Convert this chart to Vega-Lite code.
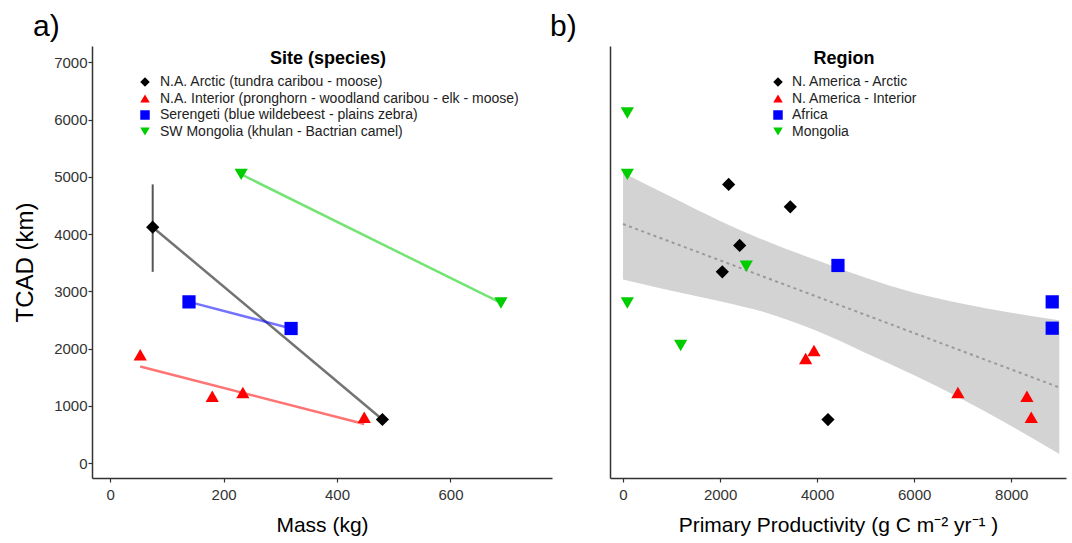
{
  "$schema": "https://vega.github.io/schema/vega-lite/v6.json",
  "background": "white",
  "padding": {"left": 13, "top": 12, "right": 3, "bottom": 5},
  "config": {
    "view": {"stroke": null},
    "font": "Liberation Sans",
    "axis": {
      "grid": false,
      "domainColor": "#333333",
      "domainWidth": 1.5,
      "tickColor": "#333333",
      "tickWidth": 1.2,
      "tickSize": 4,
      "labelColor": "#333333",
      "labelFontSize": 15,
      "labelFont": "Liberation Sans",
      "titleFont": "Liberation Sans",
      "titleColor": "#000000",
      "titleFontWeight": "normal",
      "format": "d"
    },
    "legend": {
      "padding": 0,
      "labelFont": "Liberation Sans",
      "labelFontSize": 14,
      "labelColor": "#222222",
      "labelLimit": 0,
      "titleFont": "Liberation Sans",
      "titleFontSize": 18,
      "titleFontWeight": "bold",
      "titleColor": "#000000",
      "titleAnchor": "middle",
      "titlePadding": 7,
      "titleLimit": 0,
      "rowPadding": 2.5,
      "symbolSize": 90,
      "symbolStrokeWidth": 0,
      "symbolOpacity": 1
    }
  },
  "datasets": {
    "aPoints": [
      {"site": "N.A. Arctic (tundra caribou - moose)", "mass": 75, "tcad": 4120, "lo": 3340, "hi": 4867},
      {"site": "N.A. Arctic (tundra caribou - moose)", "mass": 480, "tcad": 760},
      {"site": "N.A. Interior (pronghorn - woodland caribou - elk - moose)", "mass": 53, "tcad": 1890},
      {"site": "N.A. Interior (pronghorn - woodland caribou - elk - moose)", "mass": 180, "tcad": 1166},
      {"site": "N.A. Interior (pronghorn - woodland caribou - elk - moose)", "mass": 234, "tcad": 1230},
      {"site": "N.A. Interior (pronghorn - woodland caribou - elk - moose)", "mass": 448, "tcad": 800},
      {"site": "Serengeti (blue wildebeest - plains zebra)", "mass": 139, "tcad": 2815},
      {"site": "Serengeti (blue wildebeest - plains zebra)", "mass": 319, "tcad": 2350},
      {"site": "SW Mongolia (khulan - Bactrian camel)", "mass": 231, "tcad": 5042},
      {"site": "SW Mongolia (khulan - Bactrian camel)", "mass": 689, "tcad": 2797}
    ],
    "aLines": [
      {"site": "N.A. Arctic (tundra caribou - moose)", "mass": 75, "tcad": 4120},
      {"site": "N.A. Arctic (tundra caribou - moose)", "mass": 480, "tcad": 760},
      {"site": "N.A. Interior (pronghorn - woodland caribou - elk - moose)", "mass": 53, "tcad": 1685},
      {"site": "N.A. Interior (pronghorn - woodland caribou - elk - moose)", "mass": 448, "tcad": 681},
      {"site": "Serengeti (blue wildebeest - plains zebra)", "mass": 139, "tcad": 2815},
      {"site": "Serengeti (blue wildebeest - plains zebra)", "mass": 319, "tcad": 2350},
      {"site": "SW Mongolia (khulan - Bactrian camel)", "mass": 231, "tcad": 5042},
      {"site": "SW Mongolia (khulan - Bactrian camel)", "mass": 689, "tcad": 2797}
    ],
    "bPoints": [
      {"region": "N. America - Arctic", "pp": 2177, "tcad": 4867},
      {"region": "N. America - Arctic", "pp": 3447, "tcad": 4476},
      {"region": "N. America - Arctic", "pp": 2404, "tcad": 3801},
      {"region": "N. America - Arctic", "pp": 2046, "tcad": 3339},
      {"region": "N. America - Arctic", "pp": 4223, "tcad": 759},
      {"region": "N. America - Interior", "pp": 3935, "tcad": 1965},
      {"region": "N. America - Interior", "pp": 3763, "tcad": 1825},
      {"region": "N. America - Interior", "pp": 6901, "tcad": 1230},
      {"region": "N. America - Interior", "pp": 8323, "tcad": 1166},
      {"region": "N. America - Interior", "pp": 8412, "tcad": 800},
      {"region": "Africa", "pp": 4429, "tcad": 3451},
      {"region": "Africa", "pp": 8844, "tcad": 2815},
      {"region": "Africa", "pp": 8844, "tcad": 2355},
      {"region": "Mongolia", "pp": 89, "tcad": 6114},
      {"region": "Mongolia", "pp": 89, "tcad": 5042},
      {"region": "Mongolia", "pp": 89, "tcad": 2797},
      {"region": "Mongolia", "pp": 1188, "tcad": 2052},
      {"region": "Mongolia", "pp": 2540, "tcad": 3439}
    ],
    "bBand": [
      {"pp": 0, "lo": 3206, "hi": 5070},
      {"pp": 1000, "lo": 3011, "hi": 4646},
      {"pp": 2000, "lo": 2826, "hi": 4229},
      {"pp": 3000, "lo": 2612, "hi": 3860},
      {"pp": 4000, "lo": 2304, "hi": 3540},
      {"pp": 5000, "lo": 1923, "hi": 3235},
      {"pp": 6000, "lo": 1534, "hi": 2974},
      {"pp": 7000, "lo": 1110, "hi": 2783},
      {"pp": 8000, "lo": 646, "hi": 2627},
      {"pp": 8990, "lo": 157, "hi": 2495}
    ],
    "bFit": [
      {"pp": 0, "tcad": 4175},
      {"pp": 8990, "tcad": 1320}
    ]
  },
  "hconcat": [
    {
      "width": 460,
      "height": 432,
      "title": {"text": "a)", "anchor": "start", "frame": "group", "fontSize": 30, "fontWeight": "normal", "baseline": "alphabetic", "offset": -20, "dx": -59, "color": "#000000"},
      "layer": [
        {
          "data": {"name": "aLines"},
          "mark": {"type": "line", "strokeWidth": 2.5, "opacity": 0.55},
          "encoding": {
            "x": {"field": "mass", "type": "quantitative", "title": "Mass (kg)", "scale": {"domain": [-32, 779], "nice": false, "zero": false}, "axis": {"values": [0, 200, 400, 600], "titleFontSize": 21, "labelPadding": 5, "titlePadding": 12}},
            "y": {"field": "tcad", "type": "quantitative", "title": "TCAD (km)", "scale": {"domain": [-262, 7285], "nice": false, "zero": false}, "axis": {"values": [0, 1000, 2000, 3000, 4000, 5000, 6000, 7000], "titleFontSize": 24, "labelPadding": 1, "titlePadding": 16}},
            "stroke": {
              "field": "site", "type": "nominal", "legend": null,
              "scale": {"domain": ["SW Mongolia (khulan - Bactrian camel)", "Serengeti (blue wildebeest - plains zebra)", "N.A. Interior (pronghorn - woodland caribou - elk - moose)", "N.A. Arctic (tundra caribou - moose)"], "range": ["#00CD00", "#0000FF", "#FF0000", "#000000"]}
            }
          }
        },
        {
          "data": {"name": "aPoints"},
          "transform": [{"filter": "isValid(datum.lo)"}],
          "mark": {"type": "rule", "strokeWidth": 2, "color": "#555555"},
          "encoding": {
            "x": {"field": "mass", "type": "quantitative", "title": "Mass (kg)"},
            "y": {"field": "lo", "type": "quantitative", "title": "TCAD (km)"},
            "y2": {"field": "hi"}
          }
        },
        {
          "data": {"name": "aPoints"},
          "mark": {"type": "point", "filled": true, "opacity": 1, "strokeWidth": 0, "size": 175},
          "encoding": {
            "x": {"field": "mass", "type": "quantitative", "title": "Mass (kg)"},
            "y": {"field": "tcad", "type": "quantitative", "title": "TCAD (km)"},
            "fill": {
              "field": "site", "type": "nominal", "title": "Site (species)",
              "scale": {"domain": ["N.A. Arctic (tundra caribou - moose)", "N.A. Interior (pronghorn - woodland caribou - elk - moose)", "Serengeti (blue wildebeest - plains zebra)", "SW Mongolia (khulan - Bactrian camel)"], "range": ["#000000", "#FF0000", "#0000FF", "#00CD00"]},
              "legend": {"orient": "none", "legendX": 46, "legendY": 4, "labelOffset": 8}
            },
            "shape": {
              "field": "site", "type": "nominal", "title": "Site (species)",
              "scale": {"domain": ["N.A. Arctic (tundra caribou - moose)", "N.A. Interior (pronghorn - woodland caribou - elk - moose)", "Serengeti (blue wildebeest - plains zebra)", "SW Mongolia (khulan - Bactrian camel)"], "range": ["diamond", "triangle-up", "square", "triangle-down"]},
              "legend": {"orient": "none", "legendX": 46, "legendY": 4, "labelOffset": 8}
            }
          }
        }
      ]
    },
    {
      "width": 456,
      "height": 432,
      "title": {"text": "b)", "anchor": "start", "frame": "group", "fontSize": 30, "fontWeight": "normal", "baseline": "alphabetic", "offset": -20, "dx": -60, "color": "#000000"},
      "layer": [
        {
          "data": {"name": "bBand"},
          "mark": {"type": "area", "color": "#D3D3D3", "opacity": 1, "interpolate": "monotone"},
          "encoding": {
            "x": {"field": "pp", "type": "quantitative", "title": "Primary Productivity (g C m⁻² yr⁻¹ )", "scale": {"domain": [-268, 9128], "nice": false, "zero": false}, "axis": {"values": [0, 2000, 4000, 6000, 8000], "titleFontSize": 21, "labelPadding": 5, "titlePadding": 12}},
            "y": {"field": "lo", "type": "quantitative", "title": null, "scale": {"domain": [-262, 7285], "nice": false, "zero": false}, "axis": {"labels": false, "ticks": false, "title": null}},
            "y2": {"field": "hi"}
          }
        },
        {
          "data": {"name": "bFit"},
          "mark": {"type": "line", "strokeDash": [3, 3.5], "color": "#9A9A9A", "strokeWidth": 2},
          "encoding": {
            "x": {"field": "pp", "type": "quantitative", "title": "Primary Productivity (g C m⁻² yr⁻¹ )"},
            "y": {"field": "tcad", "type": "quantitative", "title": null}
          }
        },
        {
          "data": {"name": "bPoints"},
          "mark": {"type": "point", "filled": true, "opacity": 1, "strokeWidth": 0, "size": 175},
          "encoding": {
            "x": {"field": "pp", "type": "quantitative", "title": "Primary Productivity (g C m⁻² yr⁻¹ )"},
            "y": {"field": "tcad", "type": "quantitative", "title": null},
            "fill": {
              "field": "region", "type": "nominal", "title": "Region",
              "scale": {"domain": ["N. America - Arctic", "N. America - Interior", "Africa", "Mongolia"], "range": ["#000000", "#FF0000", "#0000FF", "#00CD00"]},
              "legend": {"orient": "none", "legendX": 161, "legendY": 4, "labelOffset": 7}
            },
            "shape": {
              "field": "region", "type": "nominal", "title": "Region",
              "scale": {"domain": ["N. America - Arctic", "N. America - Interior", "Africa", "Mongolia"], "range": ["diamond", "triangle-up", "square", "triangle-down"]},
              "legend": {"orient": "none", "legendX": 161, "legendY": 4, "labelOffset": 7}
            }
          }
        }
      ]
    }
  ],
  "spacing": 58,
  "bounds": "flush",
  "resolve": {
    "scale": {"fill": "independent", "stroke": "independent", "shape": "independent", "x": "independent", "y": "independent"},
    "legend": {"fill": "independent", "stroke": "independent", "shape": "independent"}
  }
}
